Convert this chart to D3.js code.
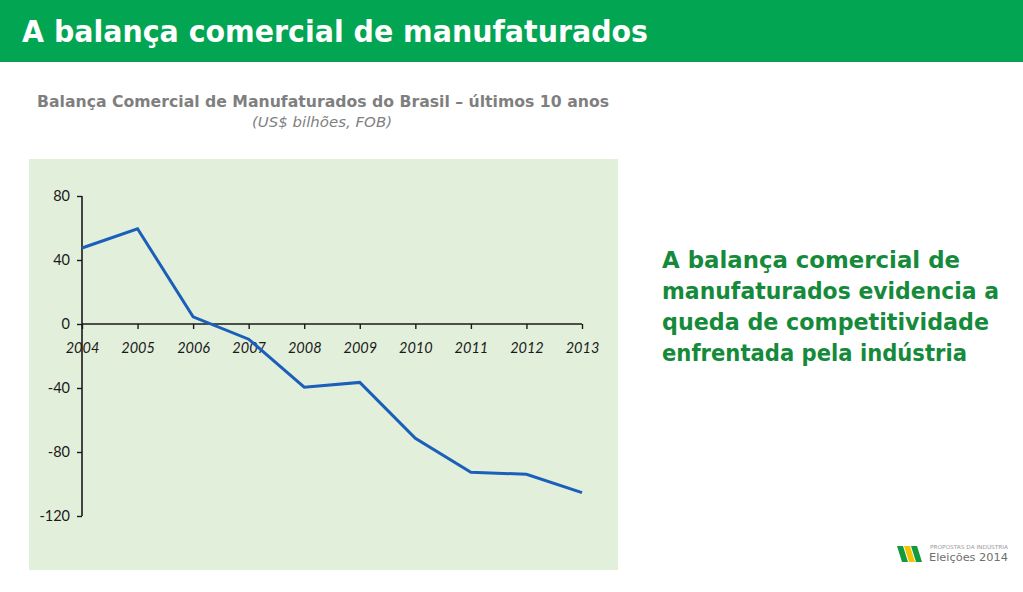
<!DOCTYPE html>
<html>
<head>
<meta charset="utf-8">
<script src="https://cdn.jsdelivr.net/npm/d3@7"></script>
<style>
  html, body { margin: 0; padding: 0; background: #fff; }
  svg { display: block; }
</style>
</head>
<body>
<svg id="chart" width="1023" height="592"></svg>
<script>
const years = ["2004","2005","2006","2007","2008","2009","2010","2011","2012","2013"];
const balance = [47.5, 59.5, 4.5, -9.5, -39.5, -36.5, -71.5, -92.7, -93.9, -105.4];
const yTicks = [80, 40, 0, -40, -80, -120];
const sideLines = ["A balança comercial de", "manufaturados evidencia a", "queda de competitividade", "enfrentada pela indústria"];
const sideWidths = [298, 337, 327, 305];

const svg = d3.select("#chart");

// Header band
svg.append("rect").attr("x", 0).attr("y", 0).attr("width", 1023).attr("height", 62).attr("fill", "#02a552");
svg.append("rect").attr("x", 0).attr("y", 61).attr("width", 1023).attr("height", 1).attr("fill", "#0f9a4d");
svg.append("text").attr("x", 22).attr("y", 42)
  .attr("font-family", "DejaVu Sans").attr("font-weight", "bold").attr("font-size", 30)
  .attr("fill", "#fff").attr("textLength", 626).attr("lengthAdjust", "spacingAndGlyphs")
  .text("A balança comercial de manufaturados");

// Chart title
svg.append("text").attr("x", 323).attr("y", 107).attr("text-anchor", "middle")
  .attr("font-family", "DejaVu Sans").attr("font-weight", "bold").attr("font-size", 15.5)
  .attr("fill", "#7f7f7f").attr("textLength", 572).attr("lengthAdjust", "spacingAndGlyphs")
  .text("Balança Comercial de Manufaturados do Brasil – últimos 10 anos");
svg.append("text").attr("x", 322).attr("y", 127).attr("text-anchor", "middle")
  .attr("font-family", "DejaVu Sans").attr("font-style", "italic").attr("font-size", 14)
  .attr("fill", "#7f7f7f").attr("textLength", 140).attr("lengthAdjust", "spacingAndGlyphs")
  .text("(US$ bilhões, FOB)");

// Plot background
svg.append("rect").attr("x", 29).attr("y", 159).attr("width", 589).attr("height", 411).attr("fill", "#e2efda");

const x = d3.scalePoint().domain(years).range([82, 582]);
const y = d3.scaleLinear().domain([-120, 80]).range([516, 196]);

// Y axis
const yAxis = svg.append("g").attr("transform", "translate(82,0)")
  .call(d3.axisLeft(y).tickValues(yTicks).tickSize(5).tickPadding(7).tickFormat(d => String(d)));
yAxis.select(".domain").attr("stroke", "#1a1a1a").attr("stroke-width", 1.6).attr("d", `M0,${y(80)}V${y(-120)}`);
yAxis.selectAll(".tick line").attr("stroke", "#1a1a1a").attr("stroke-width", 1.4);
yAxis.selectAll(".tick text").attr("font-family", "Lato").attr("font-size", 14.5).attr("fill", "#1a1a1a");

// X axis at zero
const xAxis = svg.append("g").attr("transform", `translate(0,${y(0)})`)
  .call(d3.axisBottom(x).tickSize(5).tickPadding(14));
xAxis.select(".domain").attr("stroke", "#1a1a1a").attr("stroke-width", 1.6).attr("d", `M${x(years[0])},0H${x(years[years.length-1])}`);
xAxis.selectAll(".tick line").attr("stroke", "#1a1a1a").attr("stroke-width", 1.4);
xAxis.selectAll(".tick text").attr("font-family", "Lato").attr("font-style", "italic")
  .attr("font-size", 14.5).attr("fill", "#1a1a1a");

// Line
const line = d3.line().x((d, i) => x(years[i])).y(d => y(d));
svg.append("path").datum(balance).attr("d", line)
  .attr("fill", "none").attr("stroke", "#1c5fba").attr("stroke-width", 3).attr("stroke-linejoin", "miter");

// Side text
const side = svg.append("g");
sideLines.forEach((t, i) => {
  side.append("text").attr("x", 662).attr("y", 268 + i * 31)
    .attr("font-family", "DejaVu Sans").attr("font-weight", "bold").attr("font-size", 23)
    .attr("fill", "#168a3b").attr("textLength", sideWidths[i]).attr("lengthAdjust", "spacingAndGlyphs")
    .text(t);
});

// Logo
const logo = svg.append("g");
const stripes = [["#129a3e", 0], ["#f2c500", 7], ["#129a3e", 14]];
stripes.forEach(([c, dx]) => {
  const x0 = 897 + dx;
  logo.append("polygon")
    .attr("points", `${x0},546 ${x0+6},546 ${x0+11},562 ${x0+5},562`)
    .attr("fill", c);
});
logo.append("text").attr("x", 930).attr("y", 549)
  .attr("font-family", "DejaVu Sans").attr("font-size", 5.5).attr("fill", "#9a9a9a")
  .attr("textLength", 78).attr("lengthAdjust", "spacingAndGlyphs")
  .text("PROPOSTAS DA INDÚSTRIA");
logo.append("text").attr("x", 929).attr("y", 561)
  .attr("font-family", "DejaVu Sans").attr("font-size", 11).attr("fill", "#6f6f6f")
  .attr("textLength", 79).attr("lengthAdjust", "spacingAndGlyphs")
  .text("Eleições 2014");
</script>
</body>
</html>
